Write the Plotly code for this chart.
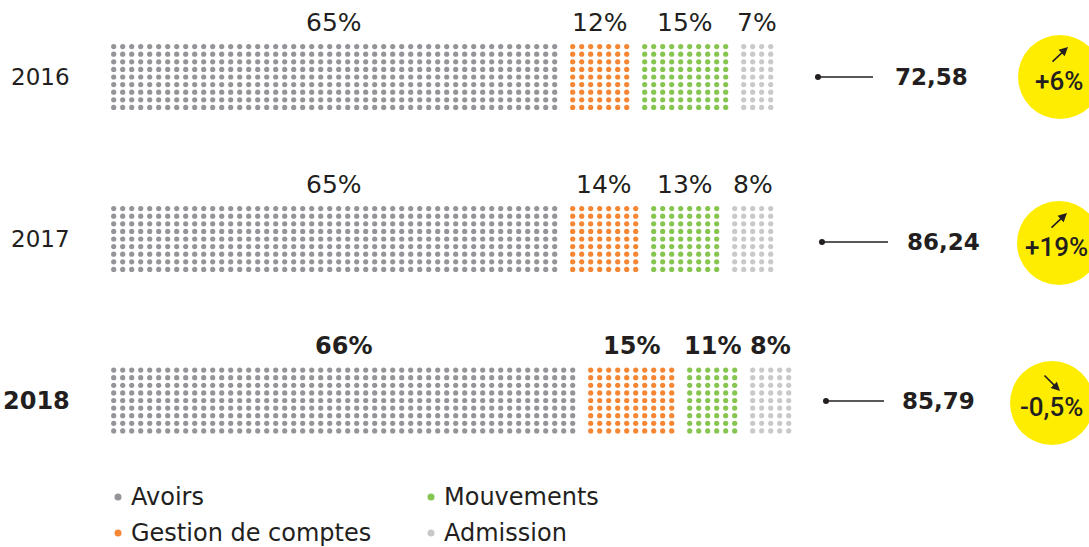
import plotly.graph_objects as go

# ---- data ----
years = ["2016", "2017", "2018"]
categories = ["Avoirs", "Gestion de comptes", "Mouvements", "Admission"]
colors = ["#939598", "#F58634", "#86C54F", "#C8C9CB"]
pct_2016 = [65, 12, 15, 7]
pct_2017 = [65, 14, 13, 8]
pct_2018 = [66, 15, 11, 8]
cols_2016 = [50, 7, 10, 4]
cols_2017 = [50, 8, 8, 5]
cols_2018 = [52, 10, 6, 5]
totals = ["72,58", "86,24", "85,79"]
changes = ["+6%", "+19%", "-0,5%"]
trend = ["up", "up", "down"]

pcts = [pct_2016, pct_2017, pct_2018]
cols = [cols_2016, cols_2017, cols_2018]

# ---- layout parameters (pixels) ----
W, H = 1089, 547
N_ROWS = 9
X0 = 113.7
DX = 9.0
DY = 7.6
row_center_y = [77, 239, 400.5]
year_bold = [False, False, True]
line_start_x = [818, 822, 826]
line_end_x = [873, 888, 884]
line_y = [77, 242, 401]
value_x = [893, 905, 900]
circle_x = [1060, 1059, 1052]
circle_y = [77, 243, 403]
change_text_x = [1059, 1056, 1051]
TEXT = "#231F20"
FONT = "DejaVu Sans"

fig = go.Figure()

label_ann = []
for ci, cat in enumerate(categories):
    xs, ys = [], []
    for yi in range(len(years)):
        start = sum(cols[yi][:ci]) + ci  # one blank column between groups
        top = row_center_y[yi] - (N_ROWS - 1) * DY / 2
        for c in range(cols[yi][ci]):
            for r in range(N_ROWS):
                xs.append(X0 + (start + c) * DX)
                ys.append(top + r * DY)
        cx = X0 + (start + (cols[yi][ci] - 1) / 2) * DX
        if year_bold[yi]:
            fnt = dict(family=FONT, size=24, color=TEXT, weight=700)
        else:
            fnt = dict(family=FONT, size=25, color=TEXT, weight=400)
        label_ann.append(dict(x=cx, y=top - 24, text=f"{pcts[yi][ci]}%",
                              showarrow=False, xanchor="center", yanchor="middle",
                              font=fnt))
    fig.add_trace(go.Scatter(x=xs, y=ys, mode="markers", name=cat,
                             marker=dict(size=5.2, color=colors[ci], line=dict(width=0)),
                             hoverinfo="skip", showlegend=False))

# connector lines with a dot at start
for yi in range(len(years)):
    fig.add_trace(go.Scatter(x=[line_start_x[yi], line_end_x[yi]], y=[line_y[yi], line_y[yi]],
                             mode="lines", line=dict(color=TEXT, width=1.3),
                             showlegend=False, hoverinfo="skip"))
fig.add_trace(go.Scatter(x=line_start_x, y=line_y, mode="markers",
                         marker=dict(size=6, color=TEXT), showlegend=False, hoverinfo="skip"))

# yellow circles
fig.add_trace(go.Scatter(x=circle_x, y=circle_y, mode="markers",
                         marker=dict(size=84, color="#FFED00", line=dict(width=0)),
                         showlegend=False, hoverinfo="skip", cliponaxis=True))

anns = list(label_ann)
for yi, yr in enumerate(years):
    anns.append(dict(x=72, y=row_center_y[yi], text=yr, showarrow=False,
                     xanchor="right", yanchor="middle",
                     font=dict(family=FONT, size=23 if not year_bold[yi] else 24, color=TEXT,
                               weight=700 if year_bold[yi] else 400)))
    anns.append(dict(x=value_x[yi], y=line_y[yi], text=totals[yi], showarrow=False,
                     xanchor="left", yanchor="middle",
                     font=dict(family=FONT, size=23, color=TEXT, weight=700)))
    anns.append(dict(x=change_text_x[yi], y=circle_y[yi] + 4, text=changes[yi], showarrow=False,
                     xanchor="center", yanchor="middle", borderpad=0,
                     font=dict(family="Roboto", size=26, color=TEXT, weight=500)))
    if trend[yi] == "up":
        ax, ay, hx, hy = circle_x[yi] - 9, circle_y[yi] - 14, circle_x[yi] + 8, circle_y[yi] - 30
    else:
        ax, ay, hx, hy = circle_x[yi] - 9, circle_y[yi] - 29, circle_x[yi] + 8, circle_y[yi] - 12
    anns.append(dict(x=hx, y=hy, ax=ax, ay=ay, xref="x", yref="y", axref="x", ayref="y",
                     text="", showarrow=True, arrowhead=2, arrowsize=1.1, arrowwidth=1.6,
                     arrowcolor=TEXT))

# legend (manual)
leg_x = [118, 118, 431, 431]
leg_y = [497, 533, 497, 533]
leg_order = [0, 1, 2, 3]
fig.add_trace(go.Scatter(x=[leg_x[i] for i in leg_order], y=[leg_y[i] for i in leg_order],
                         mode="markers", marker=dict(size=7, color=[colors[i] for i in leg_order]),
                         showlegend=False, hoverinfo="skip"))
for i in leg_order:
    anns.append(dict(x=leg_x[i] + 12, y=leg_y[i], text=categories[i], showarrow=False,
                     xanchor="left", yanchor="middle", borderpad=0,
                     font=dict(family=FONT, size=24, color=TEXT, weight=400)))

fig.update_layout(
    width=W, height=H, margin=dict(l=0, r=0, t=0, b=0),
    paper_bgcolor="white", plot_bgcolor="white",
    xaxis=dict(range=[0, W], visible=False, fixedrange=True),
    yaxis=dict(range=[H, 0], visible=False, fixedrange=True),
    annotations=anns, showlegend=False,
)
fig.write_html("out.html", config=dict(displayModeBar=False),
               post_script="document.body.style.margin='0';")
